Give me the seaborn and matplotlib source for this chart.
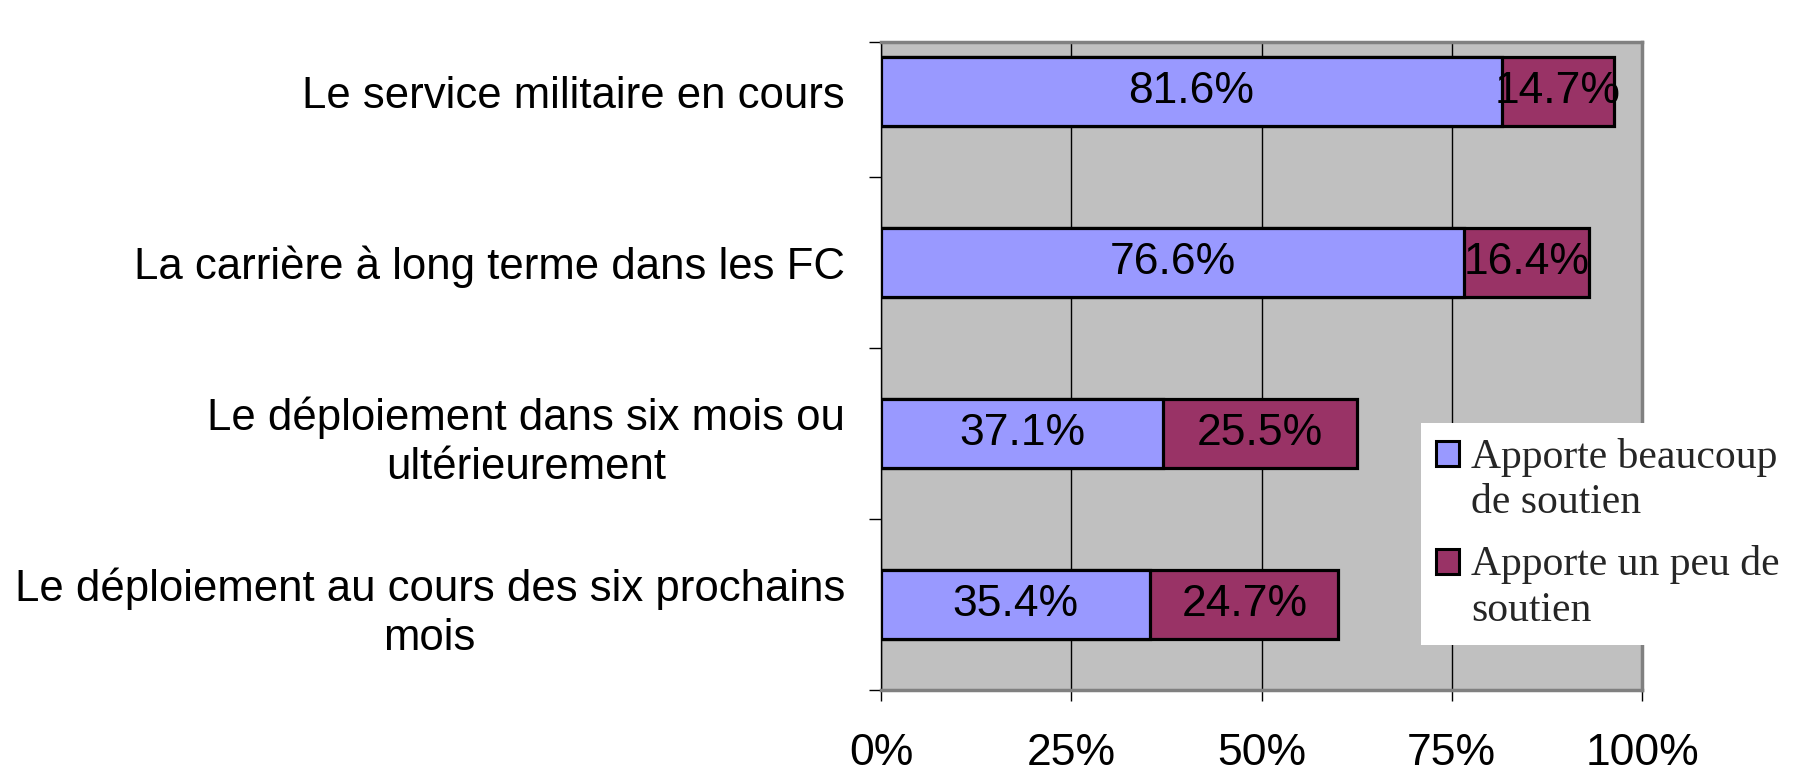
import numpy as np
import pandas as pd
import seaborn as sns
import matplotlib.pyplot as plt
from matplotlib.patches import Patch, Rectangle
from matplotlib.legend_handler import HandlerPatch

# Data
categories = [
    "Le service militaire en cours",
    "La carrière à long terme dans les FC",
    "Le déploiement dans six mois ou\nultérieurement",
    "Le déploiement au cours des six prochains\nmois",
]
beaucoup = [81.6, 76.6, 37.1, 35.4]   # Apporte beaucoup de soutien
un_peu = [14.7, 16.4, 25.5, 24.7]     # Apporte un peu de soutien
series_names = ["Apporte beaucoup\nde soutien", "Apporte un peu de\nsoutien"]
x_ticks = [0, 25, 50, 75, 100]

df = pd.DataFrame({"Categorie": categories, "Beaucoup": beaucoup, "UnPeu": un_peu})
df["Total"] = df["Beaucoup"] + df["UnPeu"]

sns.set_style("white")
plt.rcParams["font.family"] = ["Liberation Sans", "DejaVu Sans"]
FS = 32

blue = "#9999FF"
maroon = "#993366"

fig = plt.figure(figsize=(18.01, 7.70), dpi=100)
ax = fig.add_axes([881 / 1801, 1 - 690 / 770, (1642 - 881) / 1801, (690 - 42) / 770])
ax.set_facecolor("#C0C0C0")

# stacked bars: total first (maroon), then the first series on top (blue)
sns.barplot(data=df, x="Total", y="Categorie", orient="h", color=maroon,
            saturation=1, width=0.4, edgecolor="black", linewidth=2.3, ax=ax, zorder=3)
sns.barplot(data=df, x="Beaucoup", y="Categorie", orient="h", color=blue,
            saturation=1, width=0.4, edgecolor="black", linewidth=2.3, ax=ax, zorder=4)

# value labels centered in each segment
for i, row in df.iterrows():
    ax.text(row["Beaucoup"] / 2, i, f"{row['Beaucoup']:.1f}%", ha="center", va="center",
            fontsize=FS, color="black", zorder=5)
    ax.text(row["Beaucoup"] + row["UnPeu"] / 2, i, f"{row['UnPeu']:.1f}%", ha="center",
            va="center", fontsize=FS, color="black", zorder=5)

ax.set_xlim(0, 100)
ax.set_ylim(3.5, -0.29)
ax.set_xticks(x_ticks)
ax.set_xticklabels([f"{t}%" for t in x_ticks], fontsize=FS, color="black")
ax.xaxis.grid(True, color="black", linewidth=1)
ax.yaxis.grid(False)
ax.set_axisbelow(True)
ax.set_xlabel("")
ax.set_ylabel("")

ax.tick_params(axis="x", which="major", direction="out", length=8, width=1,
               color="black", bottom=True, pad=23)
ax.tick_params(axis="y", which="major", length=0, pad=26, labelsize=31.5, labelcolor="black")
for lbl in ax.get_yticklabels():
    lbl.set_multialignment("center")
    lbl.set_linespacing(1.25)

# category separators on the left axis
ax.set_yticks([-0.29, 0.5, 1.5, 2.5, 3.5], minor=True)
ax.tick_params(axis="y", which="minor", direction="out", length=9, width=1,
               color="black", left=True)

for side in ["top", "right", "bottom"]:
    ax.spines[side].set_color("#808080")
    ax.spines[side].set_linewidth(2.5)
ax.spines["left"].set_color("black")
ax.spines["left"].set_linewidth(1)


# legend square sits next to the first line of each label
def top_square(legend, orig_handle, xdescent, ydescent, width, height, fontsize):
    return Rectangle((-xdescent, -ydescent + 19), width, height)


handles = [Patch(facecolor=blue, edgecolor="black", linewidth=2.2),
           Patch(facecolor=maroon, edgecolor="black", linewidth=2.2)]
leg = fig.legend(handles, series_names, loc="upper left",
                 bbox_to_anchor=(1421 / 1801, 1 - 423 / 770),
                 prop={"family": "Liberation Serif", "size": 30},
                 frameon=True, fancybox=False, framealpha=1,
                 handlelength=0.55, handleheight=0.55, handletextpad=0.3,
                 borderpad=0.35, labelspacing=0.55, borderaxespad=0,
                 handler_map={Patch: HandlerPatch(patch_func=top_square)})
leg.get_frame().set_facecolor("white")
leg.get_frame().set_edgecolor("none")
for t in leg.get_texts():
    t.set_linespacing(1.25)

plt.savefig("out.png", dpi=100, facecolor="white")
